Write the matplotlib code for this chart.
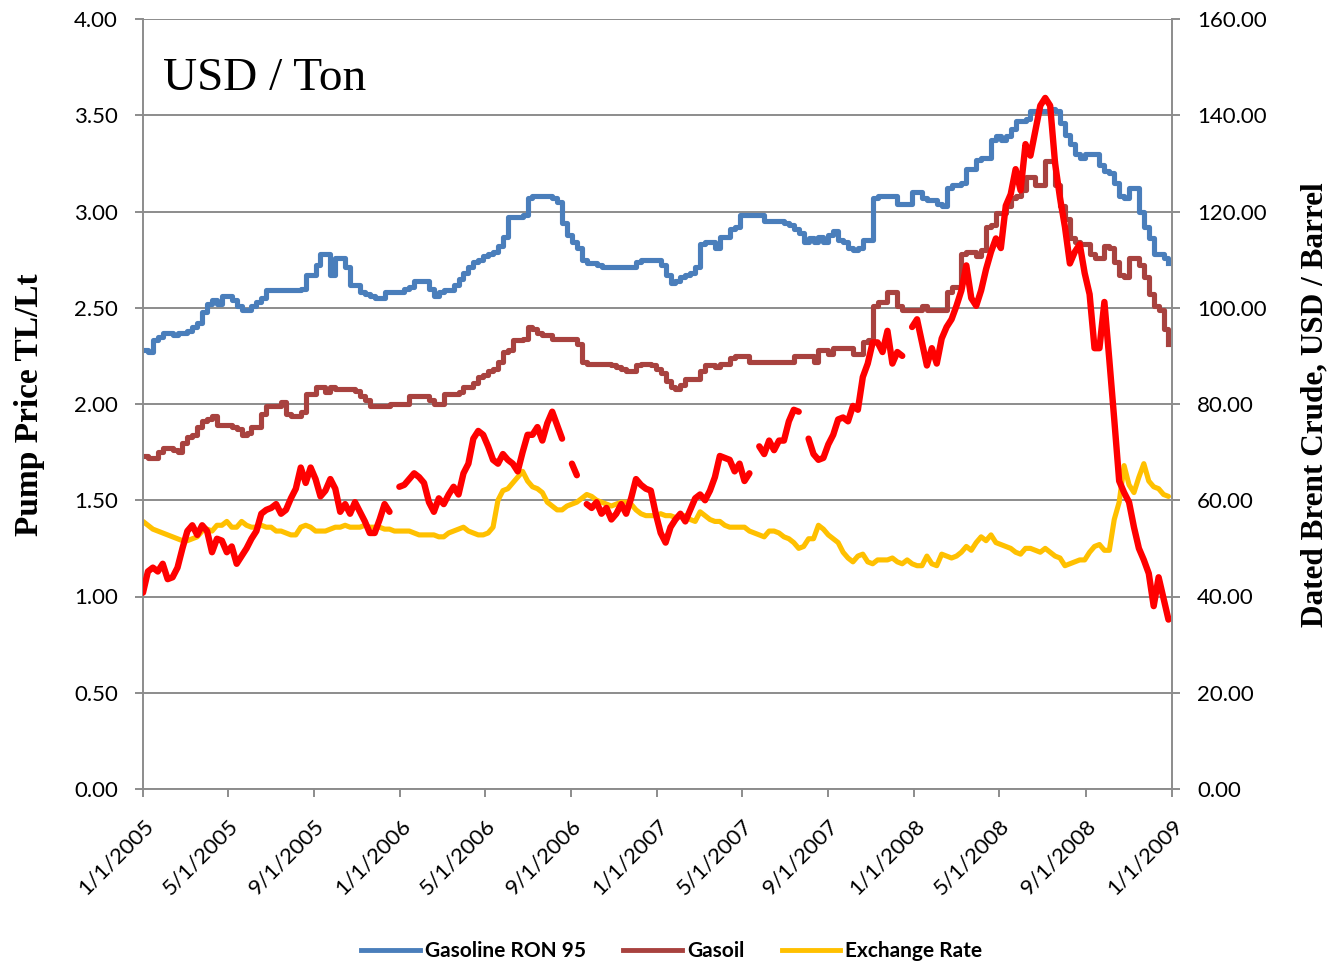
import matplotlib
matplotlib.use('Agg')
import matplotlib.pyplot as plt
from matplotlib.lines import Line2D
import numpy as np
import pandas as pd

nan = np.nan

# ---------------- data (weekly readings) ----------------
weeks = pd.date_range('2005-01-01', periods=209, freq='7D')

gasoline = [
    2.28, 2.27, 2.33, 2.35, 2.37, 2.37, 2.36, 2.37, 2.37, 2.38,
    2.40, 2.42, 2.48, 2.52, 2.54, 2.52, 2.56, 2.56, 2.54, 2.51,
    2.49, 2.49, 2.51, 2.53, 2.55, 2.59, 2.59, 2.59, 2.59, 2.59,
    2.59, 2.59, 2.60, 2.67, 2.67, 2.72, 2.78, 2.78, 2.67, 2.76,
    2.76, 2.71, 2.62, 2.62, 2.58, 2.57, 2.56, 2.55, 2.55, 2.58,
    2.58, 2.58, 2.58, 2.60, 2.61, 2.64, 2.64, 2.64, 2.60, 2.56,
    2.58, 2.59, 2.59, 2.62, 2.65, 2.68, 2.71, 2.74, 2.75, 2.77,
    2.78, 2.79, 2.82, 2.87, 2.97, 2.97, 2.97, 2.98, 3.07, 3.08,
    3.08, 3.08, 3.08, 3.07, 3.05, 2.94, 2.88, 2.84, 2.81, 2.75,
    2.73, 2.73, 2.72, 2.71, 2.71, 2.71, 2.71, 2.71, 2.71, 2.71,
    2.74, 2.75, 2.75, 2.75, 2.75, 2.72, 2.67, 2.63, 2.64, 2.66,
    2.67, 2.68, 2.71, 2.83, 2.84, 2.84, 2.81, 2.87, 2.87, 2.91,
    2.92, 2.98, 2.98, 2.98, 2.98, 2.98, 2.95, 2.95, 2.95, 2.95,
    2.94, 2.93, 2.91, 2.89, 2.84, 2.86, 2.84, 2.87, 2.84, 2.88,
    2.90, 2.85, 2.84, 2.81, 2.80, 2.81, 2.85, 2.85, 3.07, 3.08,
    3.08, 3.08, 3.08, 3.04, 3.04, 3.04, 3.10, 3.10, 3.07, 3.06,
    3.06, 3.04, 3.03, 3.12, 3.14, 3.14, 3.15, 3.22, 3.22, 3.27,
    3.28, 3.28, 3.37, 3.39, 3.37, 3.39, 3.43, 3.47, 3.47, 3.48,
    3.52, 3.52, 3.52, 3.52, 3.53, 3.52, 3.46, 3.40, 3.35, 3.30,
    3.28, 3.30, 3.30, 3.30, 3.24, 3.21, 3.20, 3.15, 3.08, 3.07,
    3.12, 3.12, 3.00, 2.92, 2.86, 2.78, 2.78, 2.76, 2.73,
]

gasoil = [
    1.73, 1.72, 1.72, 1.75, 1.77, 1.77, 1.76, 1.75, 1.80, 1.83,
    1.84, 1.88, 1.91, 1.92, 1.94, 1.89, 1.89, 1.89, 1.88, 1.87,
    1.84, 1.85, 1.88, 1.88, 1.95, 1.99, 1.99, 1.99, 2.01, 1.95,
    1.94, 1.94, 1.96, 2.05, 2.05, 2.09, 2.09, 2.06, 2.09, 2.08,
    2.08, 2.08, 2.08, 2.07, 2.04, 2.02, 1.99, 1.99, 1.99, 1.99,
    2.00, 2.00, 2.00, 2.00, 2.04, 2.04, 2.04, 2.04, 2.02, 2.00,
    2.00, 2.05, 2.05, 2.05, 2.06, 2.09, 2.09, 2.11, 2.14, 2.15,
    2.17, 2.18, 2.22, 2.27, 2.28, 2.33, 2.33, 2.34, 2.40, 2.39,
    2.37, 2.36, 2.36, 2.34, 2.34, 2.34, 2.34, 2.34, 2.31, 2.22,
    2.21, 2.21, 2.21, 2.21, 2.21, 2.20, 2.19, 2.18, 2.17, 2.17,
    2.20, 2.21, 2.21, 2.20, 2.18, 2.16, 2.12, 2.09, 2.08, 2.10,
    2.13, 2.13, 2.13, 2.17, 2.20, 2.20, 2.19, 2.21, 2.21, 2.24,
    2.25, 2.25, 2.25, 2.22, 2.22, 2.22, 2.22, 2.22, 2.22, 2.22,
    2.22, 2.22, 2.25, 2.25, 2.25, 2.25, 2.22, 2.28, 2.28, 2.26,
    2.29, 2.29, 2.29, 2.29, 2.26, 2.26, 2.32, 2.33, 2.51, 2.53,
    2.53, 2.58, 2.58, 2.51, 2.49, 2.49, 2.49, 2.49, 2.51, 2.49,
    2.49, 2.49, 2.49, 2.58, 2.61, 2.61, 2.78, 2.79, 2.79, 2.77,
    2.80, 2.92, 2.93, 2.99, 2.99, 3.03, 3.07, 3.08, 3.11, 3.18,
    3.18, 3.14, 3.14, 3.26, 3.26, 3.14, 3.03, 2.96, 2.86, 2.84,
    2.83, 2.83, 2.78, 2.76, 2.76, 2.82, 2.81, 2.74, 2.67, 2.66,
    2.76, 2.76, 2.72, 2.66, 2.57, 2.51, 2.49, 2.39, 2.31,
]

exchange = [
    1.39, 1.37, 1.35, 1.34, 1.33, 1.32, 1.31, 1.30, 1.29, 1.29,
    1.30, 1.31, 1.34, 1.35, 1.34, 1.37, 1.37, 1.39, 1.36, 1.36,
    1.39, 1.37, 1.36, 1.36, 1.37, 1.36, 1.36, 1.34, 1.34, 1.33,
    1.32, 1.32, 1.36, 1.37, 1.36, 1.34, 1.34, 1.34, 1.35, 1.36,
    1.36, 1.37, 1.36, 1.36, 1.36, 1.37, 1.36, 1.36, 1.36, 1.35,
    1.35, 1.34, 1.34, 1.34, 1.34, 1.33, 1.32, 1.32, 1.32, 1.32,
    1.31, 1.31, 1.33, 1.34, 1.35, 1.36, 1.34, 1.33, 1.32, 1.32,
    1.33, 1.36, 1.50, 1.55, 1.56, 1.59, 1.62, 1.65, 1.60, 1.57,
    1.56, 1.54, 1.49, 1.47, 1.45, 1.45, 1.47, 1.48, 1.49, 1.51,
    1.53, 1.52, 1.50, 1.49, 1.48, 1.47, 1.48, 1.49, 1.49, 1.48,
    1.45, 1.43, 1.42, 1.42, 1.42, 1.43, 1.42, 1.42, 1.41, 1.42,
    1.42, 1.40, 1.39, 1.44, 1.42, 1.40, 1.39, 1.39, 1.37, 1.36,
    1.36, 1.36, 1.36, 1.34, 1.33, 1.32, 1.31, 1.34, 1.34, 1.33,
    1.31, 1.30, 1.28, 1.25, 1.26, 1.30, 1.30, 1.37, 1.35, 1.32,
    1.30, 1.28, 1.23, 1.20, 1.18, 1.21, 1.22, 1.18, 1.17, 1.19,
    1.19, 1.19, 1.20, 1.18, 1.17, 1.19, 1.17, 1.16, 1.16, 1.21,
    1.17, 1.16, 1.22, 1.21, 1.20, 1.21, 1.23, 1.26, 1.24, 1.28,
    1.31, 1.29, 1.32, 1.28, 1.27, 1.26, 1.25, 1.23, 1.22, 1.25,
    1.25, 1.24, 1.23, 1.25, 1.23, 1.21, 1.20, 1.16, 1.17, 1.18,
    1.19, 1.19, 1.23, 1.26, 1.27, 1.24, 1.24, 1.40, 1.49, 1.68,
    1.58, 1.54, 1.62, 1.69, 1.60, 1.57, 1.56, 1.53, 1.52,
]

# Dated Brent crude, USD / barrel (right axis); gaps = missing quotes
brent = [
    40.8, 45.2, 46.0, 45.2, 46.8, 43.6, 44.0, 46.0, 50.0, 53.6,
    54.8, 52.8, 54.8, 53.6, 49.2, 52.0, 51.6, 49.2, 50.4, 46.8,
    48.4, 50.0, 52.0, 53.6, 57.2, 58.0, 58.4, 59.2, 57.2, 58.0,
    60.4, 62.4, 66.8, 63.6, 66.8, 64.4, 60.8, 62.0, 64.4, 62.4,
    57.6, 59.2, 57.2, 59.6, 57.6, 55.6, 53.2, 53.2, 56.0, 59.2,
    57.6, nan, 62.8, 63.2, 64.4, 65.6, 64.8, 63.6, 59.6, 57.6,
    60.4, 59.2, 61.2, 62.8, 61.2, 65.6, 67.6, 72.8, 74.4, 73.6,
    71.2, 68.4, 67.6, 69.6, 68.4, 67.6, 66.0, 70.0, 73.6, 73.6,
    75.2, 72.4, 76.0, 78.4, 75.6, 72.8, nan, 67.6, 65.2, nan,
    59.2, 58.4, 59.6, 57.2, 58.4, 56.0, 57.2, 59.2, 57.2, 60.4,
    64.4, 63.2, 62.4, 62.0, 57.2, 53.2, 51.2, 54.4, 56.0, 57.2,
    55.6, 58.0, 60.4, 61.2, 60.0, 62.0, 64.8, 69.2, 68.8, 68.4,
    66.0, 67.6, 64.0, 65.6, nan, 71.2, 69.6, 72.4, 70.4, 72.4,
    72.4, 76.4, 78.8, 78.4, nan, 72.8, 69.6, 68.4, 68.8, 71.6,
    73.6, 76.8, 77.2, 76.4, 79.6, 78.8, 85.6, 88.4, 92.8, 92.8,
    90.8, 95.2, 88.4, 90.8, 90.0, nan, 96.0, 97.6, 92.8, 88.0,
    91.6, 88.4, 93.6, 96.0, 97.6, 100.4, 103.6, 108.8, 102.0, 100.4,
    103.6, 108.0, 111.6, 114.4, 112.4, 121.2, 123.6, 128.8, 124.4, 134.0,
    131.6, 136.8, 142.0, 143.6, 142.0, 130.0, 122.8, 116.8, 109.2, 111.6,
    113.2, 107.2, 102.8, 91.6, 91.6, 101.2, 89.2, 76.8, 64.0, 61.6,
    59.6, 54.4, 50.0, 47.6, 44.8, 38.0, 44.0, 39.6, 35.2,
]

tick_dates = pd.to_datetime(['2005-01-01', '2005-05-01', '2005-09-01', '2006-01-01',
                             '2006-05-01', '2006-09-01', '2007-01-01', '2007-05-01',
                             '2007-09-01', '2008-01-01', '2008-05-01', '2008-09-01',
                             '2009-01-01'])
tick_labels = ['1/1/2005', '5/1/2005', '9/1/2005', '1/1/2006', '5/1/2006', '9/1/2006',
               '1/1/2007', '5/1/2007', '9/1/2007', '1/1/2008', '5/1/2008', '9/1/2008',
               '1/1/2009']
left_ticks = [0, 0.5, 1.0, 1.5, 2.0, 2.5, 3.0, 3.5, 4.0]
right_ticks = [0, 20, 40, 60, 80, 100, 120, 140, 160]

# ---------------- styling ----------------
C_BLUE = '#4A7EBB'
C_BROWN = '#A8423F'
C_YELLOW = '#FFC000'
C_RED = '#FF0000'
C_GRID = '#8C8C8C'
SANS = ['Lato', 'DejaVu Sans']
SERIF = ['Liberation Serif', 'DejaVu Serif']

plt.rcParams['font.family'] = SANS

W, H = 1330, 965
fig = plt.figure(figsize=(W / 100, H / 100), dpi=100)
ax = fig.add_axes([143 / W, 1 - 789 / H, 1029 / W, 770 / H])
ax2 = ax.twinx()

lw = 3.7
ax.plot(weeks, gasoline, drawstyle='steps-post', color=C_BLUE, lw=lw, label='Gasoline RON 95')
ax.plot(weeks, gasoil, drawstyle='steps-post', color=C_BROWN, lw=lw, label='Gasoil')
ax.plot(weeks, exchange, color=C_YELLOW, lw=lw, label='Exchange Rate',
        solid_joinstyle='round', solid_capstyle='round')
ax2.plot(weeks, brent, color=C_RED, lw=4.6, solid_joinstyle='round', solid_capstyle='round')

x0, x1 = pd.Timestamp('2005-01-01'), pd.Timestamp('2009-01-01')
ax.set_xlim(x0, x1)
ax.set_ylim(0, 4)
ax2.set_ylim(0, 160)

ax.set_yticks(left_ticks)
ax.set_yticklabels([f'{v:.2f}' for v in left_ticks])
ax2.set_yticks(right_ticks)
ax2.set_yticklabels([f'{v:.2f}' for v in right_ticks])

ax.yaxis.grid(True, color=C_GRID, lw=1.4)
ax.set_axisbelow(True)

for a in (ax, ax2):
    for s in a.spines.values():
        s.set_color(C_GRID)
        s.set_linewidth(1.4)
    a.spines['top'].set_visible(False)
ax.spines['right'].set_visible(False)
ax2.spines['left'].set_visible(False)
ax2.spines['bottom'].set_visible(False)

ax.tick_params(axis='y', direction='out', length=6, width=1.4, color=C_GRID,
               pad=12, labelsize=16)
ax2.tick_params(axis='y', direction='out', length=6, width=1.4, color=C_GRID,
                pad=12, labelsize=16)
ax.set_xticks(tick_dates)
ax.set_xticklabels(tick_labels, rotation=45, ha='right', va='top', rotation_mode='anchor')
ax.tick_params(axis='x', direction='out', length=6, width=1.4, color=C_GRID,
               pad=13, labelsize=16)
ax.xaxis.set_minor_locator(matplotlib.ticker.NullLocator())

fig.text(30 / W, 1 - 405 / H, 'Pump Price TL/Lt', rotation=90, ha='center', va='center',
         family=SERIF, weight='bold', size=24)
fig.text(1315 / W, 1 - 405 / H, 'Dated Brent Crude, USD / Barrel', rotation=90,
         ha='center', va='center', family=SERIF, weight='bold', size=22.5)
fig.text(163 / W, 1 - 90 / H, 'USD / Ton', ha='left', va='baseline',
         family=SERIF, size=34)

handles = [Line2D([], [], color=C_BLUE, lw=3.5),
           Line2D([], [], color=C_BROWN, lw=3.5),
           Line2D([], [], color=C_YELLOW, lw=3.5)]
fig.legend(handles, ['Gasoline RON 95', 'Gasoil', 'Exchange Rate'],
           loc='center', bbox_to_anchor=(672 / W, 1 - 951 / H), ncol=3, frameon=False,
           prop={'family': SANS, 'weight': 'bold', 'size': 15},
           handlelength=2.8, handletextpad=0.25, columnspacing=1.8)

fig.savefig('out.png', dpi=100)
